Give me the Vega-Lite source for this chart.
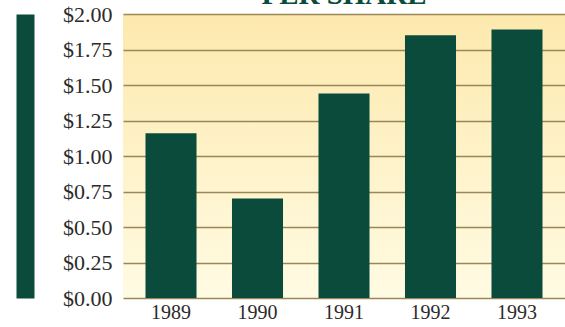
{
  "$schema": "https://vega.github.io/schema/vega-lite/v6.json",
  "width": 442,
  "height": 284,
  "autosize": {"type": "none"},
  "padding": {"left": 123, "top": 14, "right": 0, "bottom": 29},
  "background": "#ffffff",
  "data": {
    "values": [
      {"year": "1989", "eps": 1.16},
      {"year": "1990", "eps": 0.70},
      {"year": "1991", "eps": 1.44},
      {"year": "1992", "eps": 1.85},
      {"year": "1993", "eps": 1.89}
    ]
  },
  "config": {
    "view": {
      "stroke": null,
      "fill": {
        "gradient": "linear",
        "x1": 0, "y1": 0, "x2": 0, "y2": 1,
        "stops": [
          {"offset": 0, "color": "#fde9ad"},
          {"offset": 1, "color": "#fffbe3"}
        ]
      }
    },
    "axis": {
      "labelFont": "Liberation Serif",
      "labelColor": "#2b2b2b",
      "labelFontSize": 20
    }
  },
  "encoding": {
    "x": {
      "field": "year",
      "type": "nominal",
      "scale": {"paddingInner": 0.41, "paddingOuter": 0.26},
      "axis": {
        "title": null,
        "labelAngle": 0,
        "domain": false,
        "ticks": false,
        "labelPadding": 4
      }
    }
  },
  "layer": [
    {
      "mark": {"type": "bar", "color": "#0a4b3c"},
      "encoding": {
        "y": {
          "field": "eps",
          "type": "quantitative",
          "scale": {"domain": [0, 2], "nice": false},
          "axis": {
            "orient": "left",
            "title": null,
            "values": [0, 0.25, 0.5, 0.75, 1, 1.25, 1.5, 1.75, 2],
            "format": "$.2f",
            "domain": false,
            "ticks": false,
            "labelPadding": 11,
            "labelFontSize": 22,
            "grid": true,
            "gridColor": "#9a8658",
            "gridWidth": 1.5
          }
        }
      }
    },
    {
      "mark": {"type": "point", "opacity": 0},
      "encoding": {
        "y": {
          "field": "eps",
          "type": "quantitative",
          "scale": {"domain": [0, 2], "nice": false},
          "axis": {
            "orient": "left",
            "title": null,
            "offset": 98,
            "labels": false,
            "ticks": false,
            "grid": false,
            "domain": true,
            "domainColor": "#0a4b3c",
            "domainWidth": 18,
            "domainCap": "butt"
          }
        }
      }
    },
    {
      "data": {"values": [{"heading": "PER SHARE", "year": "1991", "eps": 2}]},
      "mark": {
        "type": "text",
        "font": "Liberation Serif",
        "fontSize": 29,
        "fontWeight": "bold",
        "color": "#0a4b3c",
        "align": "center",
        "baseline": "alphabetic",
        "dx": 0,
        "dy": -10
      },
      "encoding": {
        "text": {"field": "heading"},
        "y": {
          "field": "eps",
          "type": "quantitative",
          "scale": {"domain": [0, 2], "nice": false},
          "axis": null
        }
      }
    }
  ],
  "resolve": {"scale": {"y": "independent"}, "axis": {"y": "independent"}}
}
